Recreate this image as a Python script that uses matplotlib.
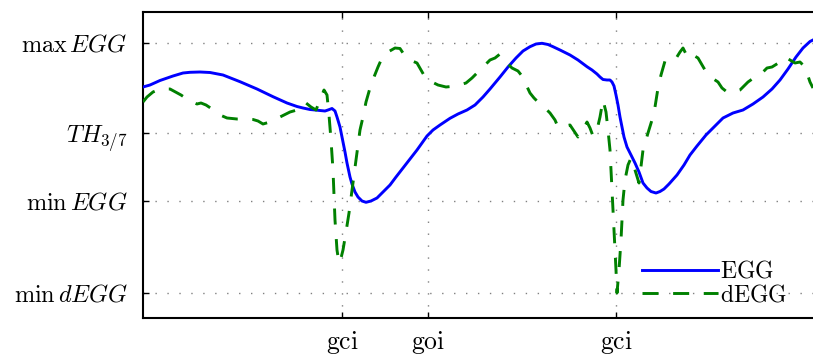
import matplotlib
matplotlib.use("Agg")
import matplotlib.pyplot as plt
import numpy as np

plt.rcParams['mathtext.fontset'] = 'cm'
plt.rcParams['font.family'] = ['DejaVu Serif']

# time axis in samples; amplitude in arbitrary units (min EGG = 0)
egg_t = [0, 7, 17, 30, 40, 47, 57, 67, 80, 97, 114, 130, 144, 154, 160, 167, 172, 177,
         182, 185, 189, 192, 194, 197, 199, 202, 204, 207, 209, 212, 215, 219, 223, 228,
         234, 240, 247, 253, 260, 267, 274, 279, 284, 290, 297, 307, 315, 324, 332, 340,
         347, 357, 365, 373, 380, 387, 393, 399, 405, 410, 417, 427, 435, 444, 449, 454,
         457, 460, 464, 467, 469, 471, 473, 475, 477, 479, 481, 484, 488, 492, 496, 500,
         504, 508, 513, 517, 521, 526, 534, 541, 547, 554, 563, 570, 580, 590, 600, 610,
         620, 629, 637, 645, 653, 660, 667, 670]
egg_v = [114, 116, 120.5, 125, 128, 128.7, 129, 128.5, 126, 119.3, 112, 104.3, 98, 94.5,
         93, 91.5, 91, 90.5, 90, 91, 92.5, 90, 84, 74, 64, 49, 38, 24, 17, 9, 4, 0, -1.3,
         0, 3, 9, 16, 24, 33, 42, 51, 58, 65, 71, 76, 82.7, 87, 91, 96, 104, 112, 124, 134,
         143, 150, 154.3, 157, 157.7, 156.5, 154.3, 151, 146, 141, 134.3, 131, 127, 124,
         121.5, 121, 121, 119, 115, 106, 96, 84, 74, 64, 54, 46, 38, 29, 18, 13, 9.5, 8,
         9.5, 12, 17, 26, 36, 46, 55, 66, 73, 83, 88, 91, 97, 104, 112, 121, 132, 144, 153,
         159.5, 161]

degg_t = [0, 4, 10, 17, 27, 38, 47, 54, 58, 63, 69, 77, 84, 94, 104, 110, 115, 120, 127,
          137, 147, 154, 159, 163, 168, 173, 177, 181, 184, 186, 188, 190, 192, 194, 196,
          198, 200, 203, 206, 209, 213, 217, 220, 223, 227, 231, 235, 239, 245, 252, 257,
          262, 267, 274, 278, 282, 289, 295, 303, 313, 323, 329, 334, 340, 347, 352, 357,
          363, 369, 375, 379, 387, 391, 395, 402, 407, 412, 415, 422, 427, 431, 435, 440,
          444, 447, 450, 454, 457, 460, 463, 465, 467, 469, 471, 473, 474, 476, 478, 480,
          482, 485, 488, 492, 496, 500, 505, 509, 512, 515, 518, 522, 527, 532, 537, 540,
          545, 550, 555, 562, 569, 575, 579, 584, 590, 597, 605, 612, 619, 624, 629, 637,
          642, 647, 652, 657, 662, 667, 670]
degg_v = [99, 104, 109, 112, 112, 106, 100, 97, 98, 96, 92, 86, 83, 82, 82, 81.5, 80, 77,
          79, 84, 89, 91, 92, 98, 94, 91, 101, 111, 106, 86, 61, 31, -19, -49, -62, -57,
          -49, -31, -12, 11, 41, 71, 84, 99, 113, 124, 134, 143, 149, 153, 152.5, 145, 141,
          138, 131, 124, 119, 116, 114, 115, 118, 123, 128, 134, 141, 143, 147, 139, 133,
          130, 125, 108, 103, 99, 93, 88, 81, 74, 75, 76, 70, 64, 71, 79, 73, 65, 71, 84,
          101, 89, 71, 51, 11, -29, -69, -92, -69, -39, 1, 21, 36, 43, 31, 18, 51, 68, 81,
          94, 113, 126, 140, 139, 141, 149, 153, 143, 146, 143, 131, 123, 119, 113, 109,
          109, 111, 119, 124, 128, 133, 134, 139, 144, 141, 138, 139, 134, 119, 113]

ytick_vals = [158, 68, 0, -92]
ytick_labels = [r'$\max\, EGG$', r'$TH_{3/7}$', r'$\min\, EGG$', r'$\min\, dEGG$']
xtick_vals = [199, 285, 473]
xtick_labels = [r'$\mathrm{gci}$', r'$\mathrm{goi}$', r'$\mathrm{gci}$']

fig = plt.figure(figsize=(8.13, 3.56), dpi=100)
ax = fig.add_axes([143/813, 38/356, 671/813, 306/356])

ax.plot(egg_t, egg_v, color='#0000ff', lw=2.1, label=r'$\mathrm{EGG}$', zorder=3)
ax.plot(degg_t, degg_v, color='#008000', lw=2.1, linestyle=(0, (5.5, 5)),
        label=r'$\mathrm{dEGG}$', zorder=3)

ax.set_xlim(0, 671)
ax.set_ylim(-117, 189)
ax.set_yticks(ytick_vals)
ax.set_yticklabels(ytick_labels, fontsize=17.5)
ax.set_xticks(xtick_vals)
ax.set_xticklabels(xtick_labels, fontsize=18.5)
ax.tick_params(axis='both', direction='in', length=4, width=1, top=True)
ax.tick_params(axis='y', pad=11)
ax.tick_params(axis='x', pad=8)
ax.grid(True, color='0.5', linestyle=(0, (1, 7.6)), lw=1)
for s in ax.spines.values():
    s.set_linewidth(1.5)
ax.spines['right'].set_visible(False)

leg = ax.legend(loc='lower left', bbox_to_anchor=(642/813, 50/356),
                bbox_transform=fig.transFigure, frameon=False, fontsize=17,
                handlelength=3.2, handletextpad=0.12, borderpad=0, borderaxespad=0,
                labelspacing=0.0, handleheight=0.7)

fig.savefig('out.png', dpi=100)
